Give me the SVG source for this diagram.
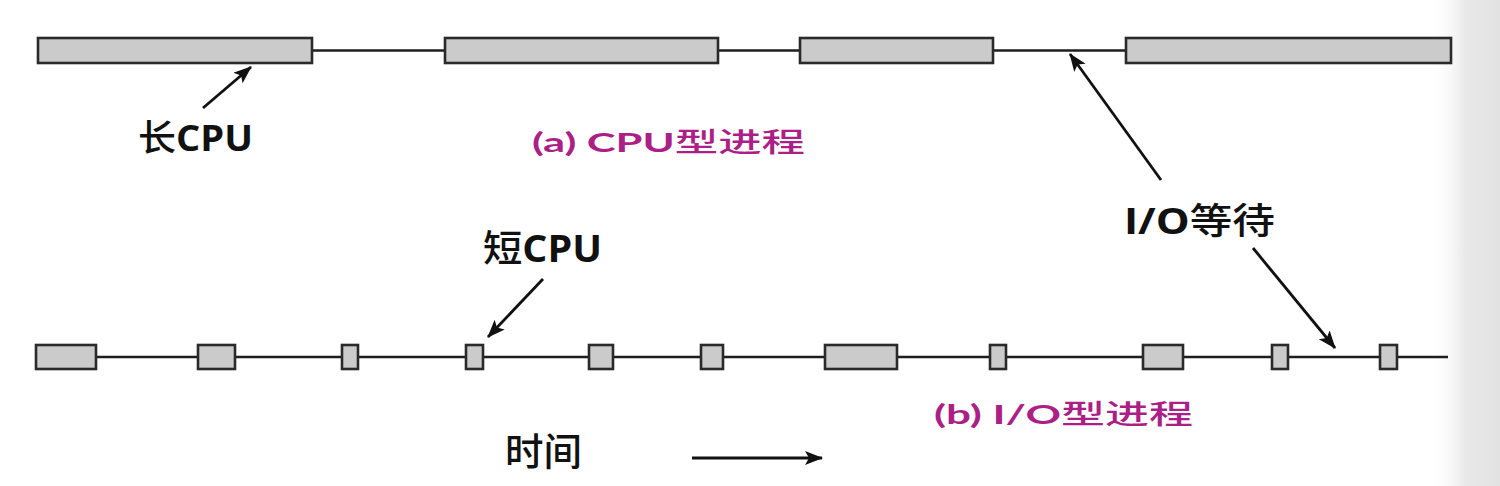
<svg xmlns="http://www.w3.org/2000/svg" width="1500" height="486" viewBox="0 0 1500 486">
<style>
.bar{fill:#cbcbcb;stroke:#2a2a2a;stroke-width:2.6}
.tl{stroke:#1e1e1e;stroke-width:2.3;fill:none}
.ar{stroke:#111;stroke-width:2.8;fill:none;marker-end:url(#ah)}
.lbl{font-family:"Open Sans","Noto Sans CJK SC",sans-serif;font-weight:700;fill:#111}
.cjk{font-family:"Noto Sans CJK SC",sans-serif;font-weight:500}
.cap{font-family:"Lato","Noto Sans CJK SC",sans-serif;font-weight:700;fill:#ab1f86}
</style>
<defs>
<marker id="ah" markerUnits="userSpaceOnUse" markerWidth="20" markerHeight="16" refX="17" refY="7" orient="auto">
<path d="M0,0 L18,7 L0,14 L4,7 z" fill="#111"/>
</marker>
<linearGradient id="edge" x1="0" y1="0" x2="1" y2="0">
<stop offset="0" stop-color="#ffffff" stop-opacity="0"/>
<stop offset="0.5" stop-color="#e9e9e9"/>
<stop offset="1" stop-color="#e2e2e2"/>
</linearGradient>
</defs>
<rect x="0" y="0" width="1500" height="486" fill="#ffffff"/>
<rect x="1430" y="0" width="70" height="486" fill="url(#edge)"/>

<g id="timelines">
<line class="tl" x1="312" y1="50.5" x2="1126" y2="50.5"/>
<line class="tl" x1="36" y1="357" x2="1448" y2="357"/>
</g>

<g id="cpu-process">
<rect class="bar" x="38" y="38" width="274" height="25"/>
<rect class="bar" x="445" y="38" width="273" height="25"/>
<rect class="bar" x="800" y="38" width="193" height="25"/>
<rect class="bar" x="1126" y="38" width="325" height="25"/>
</g>

<g id="io-process">
<rect class="bar" x="36" y="345" width="60" height="24"/>
<rect class="bar" x="198" y="345" width="37" height="24"/>
<rect class="bar" x="342" y="345" width="16" height="24"/>
<rect class="bar" x="466" y="345" width="17" height="24"/>
<rect class="bar" x="589" y="345" width="24" height="24"/>
<rect class="bar" x="701" y="345" width="22" height="24"/>
<rect class="bar" x="825" y="345" width="72" height="24"/>
<rect class="bar" x="990" y="345" width="16" height="24"/>
<rect class="bar" x="1143" y="345" width="40" height="24"/>
<rect class="bar" x="1272" y="345" width="16" height="24"/>
<rect class="bar" x="1380" y="345" width="17" height="24"/>
</g>

<g id="connectors">
<line class="ar" x1="203" y1="108" x2="251" y2="67"/>
<line class="ar" x1="1161" y1="180" x2="1070" y2="54"/>
<line class="ar" x1="1253" y1="248" x2="1335" y2="348"/>
<line class="ar" x1="543" y1="279" x2="488" y2="337"/>
<line class="ar" x1="692" y1="458" x2="822" y2="458" style="stroke-width:3.2"/>
</g>

<g id="label-long-cpu">
<text class="lbl" x="138" y="151" font-size="36" textLength="115" lengthAdjust="spacingAndGlyphs"><tspan class="cjk">长</tspan>CPU</text>
</g>
<g id="label-short-cpu">
<text class="lbl" x="483" y="262" font-size="37" textLength="119" lengthAdjust="spacingAndGlyphs"><tspan class="cjk">短</tspan>CPU</text>
</g>
<g id="label-io-wait">
<text class="lbl" x="1124" y="234" font-size="36" textLength="151" lengthAdjust="spacingAndGlyphs">I/O<tspan class="cjk">等待</tspan></text>
</g>
<g id="label-time">
<text class="lbl" x="505" y="465" font-size="38" textLength="77" lengthAdjust="spacingAndGlyphs"><tspan class="cjk">时间</tspan></text>
</g>
<g id="caption-a">
<text class="cap" x="532" y="152" font-size="27" textLength="273" lengthAdjust="spacingAndGlyphs">(a) CPU<tspan class="cjk">型进程</tspan></text>
</g>
<g id="caption-b">
<text class="cap" x="934" y="424" font-size="27" textLength="259" lengthAdjust="spacingAndGlyphs">(b) I/O<tspan class="cjk">型进程</tspan></text>
</g>
</svg>
